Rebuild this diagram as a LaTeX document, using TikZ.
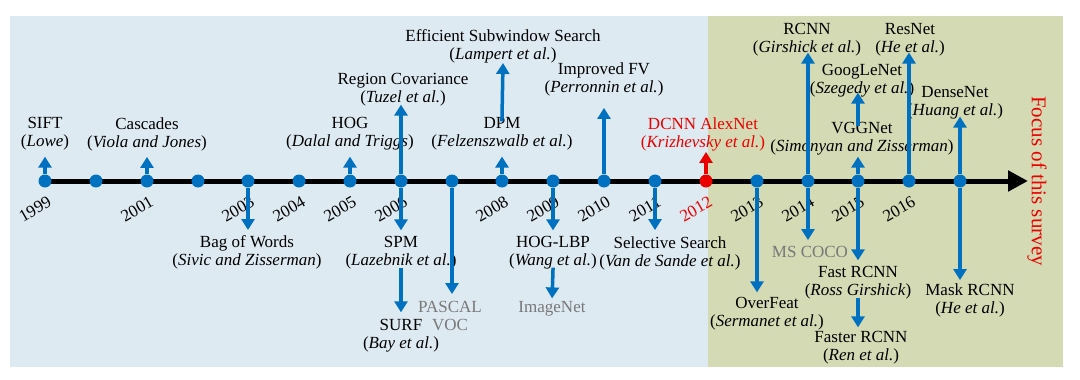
\documentclass[tikz,border=0pt]{standalone}
\usepackage{fontspec}
\setmainfont{Liberation Serif}
\usetikzlibrary{arrows.meta}

\definecolor{evblue}{RGB}{0,112,192}
\definecolor{oldbg}{RGB}{222,234,242}
\definecolor{newbg}{RGB}{212,218,180}
\definecolor{dsgray}{RGB}{120,120,120}
\definecolor{focusred}{RGB}{235,0,0}

\begin{document}
\begin{tikzpicture}[x=1pt,y=-1pt,
  every node/.style={font=\fontsize{17}{18}\selectfont},
  dot/.style={circle,fill=evblue,inner sep=0pt,minimum size=13pt},
  year/.style={rotate=30,inner sep=0pt},
  lbl/.style={align=center,inner sep=0pt},
  evarrow/.style={evblue,line width=3.5pt,-{Triangle[length=11pt,width=13pt]}}]
\useasboundingbox (0,0) rectangle (1080,380);
\fill[oldbg] (10,16) rectangle (708,367);
\fill[newbg] (708,16) rectangle (1063,367);

\coordinate (tstart) at (45,181);
\coordinate (tend) at (1028,181);
\draw[line width=5pt,-{Triangle[length=20pt,width=20pt]}] (tstart) -- (tend);

\node[dot] (d1999) at (45,181) {};
\node[dot] (d2000) at (96,181) {};
\node[dot] (d2001) at (147,181) {};
\node[dot] (d2002) at (198,181) {};
\node[dot] (d2003) at (248,181) {};
\node[dot] (d2004) at (299,181) {};
\node[dot] (d2005) at (350,181) {};
\node[dot] (d2006) at (401,181) {};
\node[dot] (d2007) at (452,181) {};
\node[dot] (d2008) at (502,181) {};
\node[dot] (d2009) at (553,181) {};
\node[dot] (d2010) at (604,181) {};
\node[dot] (d2011) at (655,181) {};
\node[dot,fill=focusred] (d2012) at (706,181) {};
\node[dot] (d2013) at (757,181) {};
\node[dot] (d2014) at (808,181) {};
\node[dot] (d2015) at (858,181) {};
\node[dot] (d2016) at (909,181) {};
\node[dot] (d2017) at (960,181) {};

\node[year] (y1999) at (35,209) {1999};
\node[year] (y2001) at (137,209) {2001};
\node[year] (y2003) at (238,209) {2003};
\node[year] (y2004) at (289,209) {2004};
\node[year] (y2005) at (340,209) {2005};
\node[year] (y2006) at (391,209) {2006};
\node[year] (y2008) at (492,209) {2008};
\node[year] (y2009) at (543,209) {2009};
\node[year] (y2010) at (594,209) {2010};
\node[year] (y2011) at (645,209) {2011};
\node[year,text=focusred] (y2012) at (696,209) {2012};
\node[year] (y2013) at (747,209) {2013};
\node[year] (y2014) at (798,209) {2014};
\node[year] (y2015) at (848,209) {2015};
\node[year] (y2016) at (899,209) {2016};

% above the line
\node[lbl] (sift) at (45,134) {SIFT\\(\textit{Lowe})};
\node[lbl] (cascades) at (147,134) {Cascades\\(\textit{Viola and Jones})};
\node[lbl] (hog) at (350,134) {HOG\\(\textit{Dalal and Triggs})};
\node[lbl] (regcov) at (403,90) {Region Covariance\\(\textit{Tuzel et al.})};
\node[lbl] (dpm) at (502,134) {DPM\\(\textit{Felzenszwalb et al.})};
\node[lbl] (ess) at (503,46) {Efficient Subwindow Search\\(\textit{Lampert et al.})};
\node[lbl] (impfv) at (604,79) {Improved FV\\(\textit{Perronnin et al.})};
\node[lbl,text=focusred] (alexnet) at (703,134) {DCNN AlexNet\\(\textit{Krizhevsky et al.})};
\node[lbl] (rcnn) at (807,40) {RCNN\\(\textit{Girshick et al.})};
\node[lbl] (googlenet) at (862,81) {GoogLeNet\\(\textit{Szegedy et al.})};
\node[lbl] (vggnet) at (862,139) {VGGNet\\(\textit{Simonyan and Zisserman})};
\node[lbl] (resnet) at (910,40) {ResNet\\(\textit{He et al.})};
\node[lbl] (densenet) at (955,103) {DenseNet\\(\textit{Huang et al.})};

% below the line
\node[lbl] (bow) at (247,252) {Bag of Words\\(\textit{Sivic and Zisserman})};
\node[lbl] (spm) at (401,253) {SPM\\(\textit{Lazebnik et al.})};
\node[lbl] (surf) at (401,336) {SURF\\(\textit{Bay et al.})};
\node[lbl,text=dsgray] (pascal) at (450,316) {PASCAL\\VOC};
\node[lbl] (hoglbp) at (553,253) {HOG-LBP\\(\textit{Wang et al.})};
\node[lbl,text=dsgray] (imagenet) at (552,309) {ImageNet};
\node[lbl] (selsearch) at (670,253) {Selective Search\\(\textit{Van de Sande et al.})};
\node[lbl] (overfeat) at (767,314) {OverFeat\\(\textit{Sermanet et al.})};
\node[lbl,text=dsgray] (mscoco) at (810,252) {MS COCO};
\node[lbl] (fastrcnn) at (858,283) {Fast RCNN\\(\textit{Ross Girshick})};
\node[lbl] (fasterrcnn) at (861,348) {Faster RCNN\\(\textit{Ren et al.})};
\node[lbl] (maskrcnn) at (970,300) {Mask RCNN\\(\textit{He et al.})};

\node[rotate=-90,text=focusred,font=\fontsize{21}{24}\selectfont] (focus) at (1037,181) {Focus of this survey};

\draw[evarrow,shorten >=6pt] (d1999) -- (d1999 |- sift.south);
\draw[evarrow,shorten >=6pt] (d2001) -- (d2001 |- cascades.south);
\draw[evarrow,shorten >=6pt] (d2005) -- (d2005 |- hog.south);
\draw[evarrow,shorten >=-2pt] (d2006) -- (d2006 |- regcov.south);
\draw[evarrow,shorten >=6pt] (d2008) -- (d2008 |- dpm.south);
\draw[evarrow,shorten <=-4pt] (dpm.north) -- (ess.south);
\draw[evarrow,shorten >=12pt] (d2010) -- (d2010 |- impfv.south);
\draw[evarrow,focusred,shorten >=1pt] (d2012) -- (d2012 |- alexnet.south);
\draw[evarrow,shorten >=-4pt] (d2014) -- (d2014 |- rcnn.south);
\draw[evarrow,shorten >=1pt] (d2015) -- (d2015 |- vggnet.south);
\draw[evarrow,shorten <=-4pt,shorten >=-5pt] (d2015 |- vggnet.north) -- (d2015 |- googlenet.south);
\draw[evarrow,shorten >=-4pt] (d2016) -- (d2016 |- resnet.south);
\draw[evarrow,shorten >=-3pt] (d2017) -- (d2017 |- densenet.south);

\draw[evarrow,shorten >=5pt] (d2003) -- (d2003 |- bow.north);
\draw[evarrow,shorten >=6pt] (d2006) -- (d2006 |- spm.north);
\draw[evarrow,shorten <=-2pt,shorten >=7pt] (spm.south) -- (surf.north);
\draw[evarrow,shorten >=7pt] (d2007) -- (d2007 |- pascal.north);
\draw[evarrow,shorten >=6pt] (d2009) -- (d2009 |- hoglbp.north);
\draw[evarrow,shorten <=-2pt,shorten >=3pt] (hoglbp.south) -- (imagenet.north);
\draw[evarrow,shorten >=6pt] (d2011) -- (d2011 |- selsearch.north);
\draw[evarrow,shorten >=5pt] (d2013) -- (d2013 |- overfeat.north);
\draw[evarrow,shorten >=6pt] (d2014) -- (d2014 |- mscoco.north);
\draw[evarrow,shorten >=6pt] (d2015) -- (d2015 |- fastrcnn.north);
\draw[evarrow,shorten <=-2pt,shorten >=4pt] (d2015 |- fastrcnn.south) -- (d2015 |- fasterrcnn.north);
\draw[evarrow,shorten >=3pt] (d2017) -- (d2017 |- maskrcnn.north);
\end{tikzpicture}
\end{document}
